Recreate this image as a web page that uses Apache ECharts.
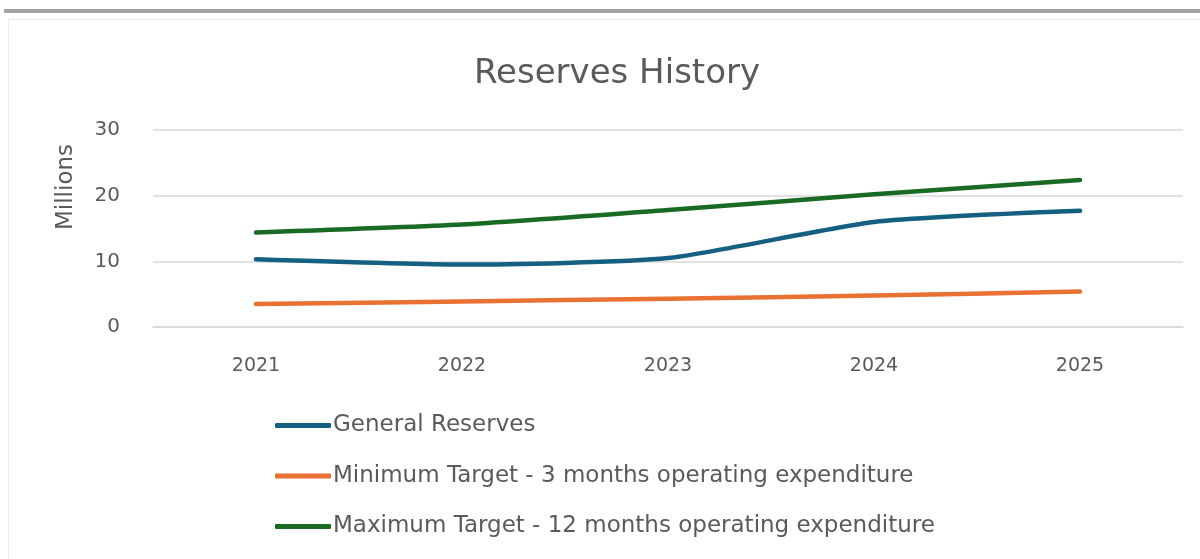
<!DOCTYPE html>
<html>
<head>
<meta charset="utf-8">
<script src="https://cdn.jsdelivr.net/npm/echarts@6/dist/echarts.min.js"></script>
<style>
html,body{margin:0;padding:0;background:#fff;}
#chart{width:1200px;height:559px;}
</style>
</head>
<body>
<div id="chart"></div>
<script>
const categories = ['2021', '2022', '2023', '2024', '2025'];
const generalReserves = [10.3, 9.5, 10.5, 16.0, 17.7];
const minimumTarget = [3.5, 3.9, 4.3, 4.8, 5.4];
const maximumTarget = [14.4, 15.6, 17.8, 20.2, 22.4];
const seriesNames = [
  'General Reserves',
  'Minimum Target - 3 months operating expenditure',
  'Maximum Target - 12 months operating expenditure'
];
const yAxisName = 'Millions';

const FONT = '"DejaVu Sans", sans-serif';
const TXT = '#5a5a5a';
const chart = echarts.init(document.getElementById('chart'));
const mk = (name, data, color) => ({
  name, type: 'line', data, symbol: 'none', smooth: 0.2,
  lineStyle: { color, width: 4.5, cap: 'round', join: 'round' },
  itemStyle: { color }
});
chart.setOption({
  animation: false,
  backgroundColor: '#fff',
  graphic: [
    { type: 'rect', shape: { x: 4, y: 9, width: 1196, height: 4 }, style: { fill: '#a3a3a3' } },
    { type: 'rect', shape: { x: 8.5, y: 19.5, width: 1200, height: 560 }, style: { fill: 'none', stroke: '#ececec', lineWidth: 1 } },
    { type: 'text', x: 66, y: 187, rotation: Math.PI / 2,
      style: { text: yAxisName, fontFamily: FONT, fontSize: 23, fill: TXT, align: 'center', verticalAlign: 'middle' } }
  ],
  title: {
    text: 'Reserves History', left: 612, top: 52, textAlign: 'center',
    textStyle: { fontFamily: FONT, fontSize: 34, fontWeight: 'normal', color: TXT }
  },
  grid: { left: 153, right: 17, top: 130, bottom: 232, containLabel: false },
  legend: {
    orient: 'vertical', left: 270, top: 409, itemGap: 27.5,
    icon: 'roundRect', itemWidth: 56, itemHeight: 5,
    textStyle: { fontFamily: FONT, fontSize: 23, color: TXT, padding: [0, 0, 0, -3] },
    data: seriesNames
  },
  xAxis: {
    type: 'category', data: categories, boundaryGap: true,
    axisLine: { show: true, lineStyle: { color: '#d9d9d9', width: 1.5 } },
    axisTick: { show: false },
    axisLabel: { fontFamily: FONT, fontSize: 19, color: TXT, margin: 30 }
  },
  yAxis: {
    type: 'value', min: 0, max: 30, interval: 10,
    axisLine: { show: false }, axisTick: { show: false },
    axisLabel: { fontFamily: FONT, fontSize: 20, color: TXT, margin: 33 },
    splitLine: { lineStyle: { color: '#d9d9d9', width: 1.5 } }
  },
  series: [
    mk(seriesNames[0], generalReserves, '#156082'),
    mk(seriesNames[1], minimumTarget, '#E97132'),
    mk(seriesNames[2], maximumTarget, '#196B24')
  ]
});
</script>
</body>
</html>
